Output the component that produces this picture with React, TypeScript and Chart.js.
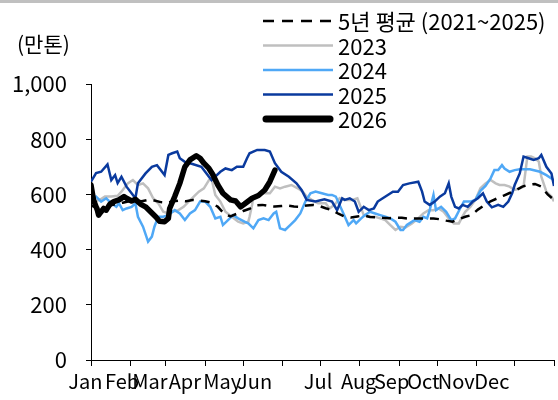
import React, { useEffect, useRef } from "react";
import { Chart, registerables } from "chart.js";

Chart.register(...registerables);

// ---- Data (day of year, value in 만톤) ----
const monthLabels = ["Jan", "Feb", "Mar", "Apr", "May", "Jun", "Jul", "Aug", "Sep", "Oct", "Nov", "Dec"];
const monthStartDays = [0, 31, 59, 90, 120, 151, 181, 212, 243, 273, 304, 334, 365];
const yTickValues = [0, 200, 400, 600, 800, 1000];

const avgDays = [0, 5, 10, 15, 20, 25, 30, 35, 40, 45, 50, 55, 60, 65, 70, 75, 80, 85, 90, 95, 100, 105, 110, 115, 120, 125, 130, 135, 140, 145, 150, 155, 160, 165, 170, 175, 180, 185, 190, 195, 200, 205, 210, 215, 220, 225, 230, 235, 240, 245, 250, 255, 260, 265, 270, 275, 280, 285, 290, 295, 300, 305, 310, 315, 320, 325, 330, 335, 340, 345, 350, 355, 360, 365];
const avgVals = [560, 550, 555, 560, 565, 570, 575, 578, 575, 580, 578, 572, 570, 575, 578, 575, 580, 578, 575, 570, 555, 530, 520, 530, 540, 548, 560, 562, 558, 556, 558, 560, 556, 555, 560, 562, 558, 550, 543, 530, 519, 516, 520, 524, 518, 517, 515, 514, 516, 515, 512, 513, 513, 513, 513, 510, 505, 501, 510, 519, 525, 545, 560, 575, 585, 595, 605, 615, 628, 635, 638, 628, 600, 580];

const days2023 = [0, 3, 7, 11, 16, 21, 24, 29, 33, 37, 41, 45, 49, 53, 57, 61, 64, 69, 73, 77, 81, 85, 89, 93, 95, 98, 102, 106, 111, 116, 120, 124, 125, 127, 128, 131, 136, 141, 145, 149, 153, 158, 163, 167, 170, 174, 179, 185, 188, 192, 196, 200, 206, 210, 212, 215, 219, 224, 228, 232, 236, 240, 244, 248, 253, 258, 262, 266, 270, 274, 278, 282, 286, 290, 292, 295, 299, 303, 307, 311, 315, 319, 322, 326, 330, 334, 338, 341, 344, 347, 350, 353, 355, 359, 363, 365];
const vals2023 = [590, 575, 580, 592, 592, 595, 610, 640, 652, 634, 640, 622, 586, 568, 537, 531, 537, 543, 555, 574, 592, 610, 622, 652, 658, 598, 574, 537, 519, 501, 495, 501, 519, 562, 592, 598, 604, 604, 628, 622, 628, 634, 622, 610, 592, 580, 568, 568, 549, 562, 586, 580, 580, 586, 562, 525, 519, 519, 513, 507, 489, 471, 483, 480, 495, 513, 531, 543, 543, 549, 537, 513, 495, 495, 513, 537, 555, 580, 622, 640, 652, 640, 634, 634, 628, 616, 622, 628, 737, 737, 731, 719, 664, 610, 592, 575];

const days2024 = [0, 4, 8, 12, 16, 20, 22, 25, 28, 32, 35, 37, 41, 45, 48, 50, 53, 57, 61, 66, 70, 74, 78, 82, 86, 90, 94, 98, 102, 104, 108, 112, 116, 121, 124, 128, 132, 136, 140, 144, 146, 149, 153, 157, 161, 165, 169, 173, 177, 182, 187, 190, 193, 199, 203, 207, 209, 213, 216, 220, 224, 228, 232, 236, 240, 244, 246, 249, 251, 255, 259, 262, 265, 267, 270, 272, 276, 280, 284, 287, 291, 294, 299, 303, 307, 311, 315, 318, 321, 324, 326, 330, 334, 338, 346, 354, 359, 363, 365];
const vals2024 = [580, 592, 574, 586, 568, 555, 568, 543, 549, 555, 568, 519, 483, 429, 447, 483, 519, 519, 525, 543, 531, 507, 531, 543, 574, 574, 555, 513, 519, 489, 507, 525, 513, 501, 495, 477, 507, 513, 507, 531, 537, 477, 471, 489, 507, 531, 574, 604, 610, 604, 598, 598, 592, 531, 489, 507, 495, 513, 525, 537, 531, 525, 519, 513, 501, 471, 471, 489, 495, 507, 501, 519, 513, 543, 598, 543, 555, 537, 507, 513, 549, 574, 574, 580, 613, 631, 658, 688, 688, 706, 694, 682, 688, 691, 691, 682, 670, 658, 650];

const days2025 = [0, 4, 8, 13, 16, 19, 21, 24, 28, 32, 35, 37, 43, 48, 52, 58, 61, 64, 68, 70, 74, 80, 87, 95, 102, 106, 111, 115, 120, 123, 125, 131, 137, 141, 145, 150, 156, 162, 166, 170, 177, 184, 190, 194, 198, 200, 204, 208, 211, 215, 219, 223, 226, 230, 234, 238, 242, 246, 251, 258, 261, 263, 267, 271, 275, 279, 282, 284, 287, 290, 293, 297, 301, 305, 309, 312, 316, 321, 325, 329, 332, 334, 338, 341, 345, 349, 353, 355, 359, 363, 365];
const vals2025 = [646, 677, 682, 709, 652, 670, 641, 664, 628, 604, 586, 640, 676, 700, 706, 670, 743, 749, 755, 731, 718, 710, 700, 652, 682, 694, 688, 700, 700, 731, 749, 761, 761, 755, 713, 682, 664, 640, 616, 580, 574, 582, 574, 543, 586, 580, 586, 574, 537, 555, 543, 549, 574, 586, 598, 610, 610, 634, 640, 646, 610, 574, 562, 574, 592, 604, 640, 592, 555, 549, 562, 555, 574, 586, 604, 574, 553, 562, 555, 574, 604, 634, 676, 737, 731, 725, 731, 743, 700, 676, 630];

const days2026 = [0, 2, 5, 6, 7, 10, 12, 15, 18, 22, 26, 28, 32, 35, 39, 43, 47, 51, 54, 58, 61, 62, 66, 70, 74, 78, 83, 86, 89, 93, 96, 100, 104, 110, 114, 118, 121, 127, 132, 137, 141, 145];
const vals2026 = [634, 580, 543, 525, 531, 549, 543, 565, 574, 580, 592, 586, 576, 582, 565, 555, 537, 519, 503, 501, 513, 549, 592, 640, 700, 725, 740, 731, 713, 694, 672, 634, 604, 580, 576, 555, 565, 586, 596, 616, 646, 688];

const toPoints = (d: number[], v: number[]) => d.map((x, i) => ({ x, y: v[i] }));

const FONT_FAMILY = "'Noto Sans CJK KR', 'Noto Sans', sans-serif";
const X_FONT_SIZE = 20;
const BIG_FONT_SIZE = 22;

const chromePlugin = {
  id: "chrome",
  afterDraw(chart: any) {
    const ctx = chart.ctx;
    ctx.save();
    // top gray rule
    ctx.fillStyle = "#C0C0C0";
    ctx.fillRect(0, 0, chart.width, 3);
    // unit label
    ctx.fillStyle = "#000";
    ctx.font = `21px ${FONT_FAMILY}`;
    ctx.textBaseline = "middle";
    ctx.textAlign = "left";
    ctx.fillText("(만톤)", 17, 44);
    // legend
    ctx.font = `${BIG_FONT_SIZE}px ${FONT_FAMILY}`;
    const x0 = 263;
    const x1 = 333;
    const rowY0 = 21;
    const rowGap = 24.5;
    chart.data.datasets.forEach((ds: any, r: number) => {
      const y = rowY0 + r * rowGap;
      ctx.save();
      ctx.strokeStyle = ds.borderColor;
      ctx.lineWidth = ds.legendWidth || ds.borderWidth;
      ctx.lineCap = ds.borderCapStyle || "butt";
      ctx.setLineDash(ds.legendDash || []);
      ctx.beginPath();
      const inset = ds.borderCapStyle === "round" ? 3 : 0;
      ctx.moveTo(x0 + inset, y);
      ctx.lineTo(x1 - inset, y);
      ctx.stroke();
      ctx.restore();
      ctx.fillStyle = "#000";
      ctx.fillText(ds.label, 338, y + 1);
    });
    ctx.restore();
  },
};

export default function App() {
  const ref = useRef<HTMLCanvasElement | null>(null);
  useEffect(() => {
    if (!ref.current) return;
    const labelPos = [-4.5, 24.5, 46.5, 74, 103.5, 129, 179, 211, 237, 262, 288, 316];
    const chart = new Chart(ref.current, {
      type: "line",
      data: {
        datasets: [
          {
            label: "5년 평균 (2021~2025)",
            data: toPoints(avgDays, avgVals),
            borderColor: "#000000",
            borderWidth: 2.5,
            borderDash: [9, 7],
            legendDash: [11, 8],
            order: 1,
          } as any,
          {
            label: "2023",
            data: toPoints(days2023, vals2023),
            borderColor: "#BFBFBF",
            borderWidth: 2.5,
            order: 4,
          },
          {
            label: "2024",
            data: toPoints(days2024, vals2024),
            borderColor: "#4FA8F6",
            borderWidth: 2.5,
            order: 3,
          },
          {
            label: "2025",
            data: toPoints(days2025, vals2025),
            borderColor: "#0A3A9E",
            borderWidth: 2.5,
            order: 2,
          },
          {
            label: "2026",
            data: toPoints(days2026, vals2026),
            borderColor: "#000000",
            borderWidth: 5.5,
            borderCapStyle: "round",
            borderJoinStyle: "round",
            legendWidth: 7,
            order: 0,
          } as any,
        ],
      },
      options: {
        animation: false,
        responsive: false,
        devicePixelRatio: 1,
        layout: { padding: { top: 84, right: 4, left: 0, bottom: 0 } },
        elements: { point: { radius: 0, hoverRadius: 0 }, line: { tension: 0 } },
        plugins: { legend: { display: false }, tooltip: { enabled: false }, title: { display: false } },
        scales: {
          x: {
            type: "linear",
            min: 0,
            max: 365,
            position: "bottom",
            afterBuildTicks: (s: any) => {
              s.ticks = monthStartDays.map((v) => ({ value: v }));
            },
            ticks: { callback: () => "", autoSkip: false, maxRotation: 0, padding: 0 },
            grid: { drawOnChartArea: false, tickLength: 6, color: "#000", tickColor: "#000", lineWidth: 1 },
            border: { color: "#000", width: 1 },
            afterFit: (s: any) => {
              s.height = 6;
            },
          },
          x2: {
            type: "linear",
            min: 0,
            max: 365,
            position: "bottom",
            afterBuildTicks: (s: any) => {
              s.ticks = labelPos.map((v) => ({ value: v }));
            },
            ticks: {
              callback: (_v: any, i: number) => monthLabels[i],
              autoSkip: false,
              maxRotation: 0,
              padding: 3,
              color: "#000",
              font: { family: FONT_FAMILY, size: X_FONT_SIZE },
            },
            grid: { display: false, drawTicks: false, tickLength: 0 },
            border: { display: false },
            afterFit: (s: any) => {
              s.height = 34;
            },
          },
          y: {
            min: 0,
            max: 1000,
            afterBuildTicks: (s: any) => {
              s.ticks = yTickValues.map((v) => ({ value: v }));
            },
            ticks: {
              callback: (v: any) => Number(v).toLocaleString("en-US"),
              color: "#000",
              padding: 19,
              font: { family: FONT_FAMILY, size: BIG_FONT_SIZE },
            },
            grid: { drawOnChartArea: false, tickLength: 5, color: "#000", tickColor: "#000" },
            border: { color: "#000", width: 1 },
            afterFit: (s: any) => {
              s.width = 91;
            },
          },
        },
      } as any,
      plugins: [chromePlugin],
    });
    return () => chart.destroy();
  }, []);
  return (
    <div style={{ position: "absolute", left: 0, top: 0, width: 558, height: 400, background: "#fff" }}>
      <canvas ref={ref} width={558} height={400} />
    </div>
  );
}
